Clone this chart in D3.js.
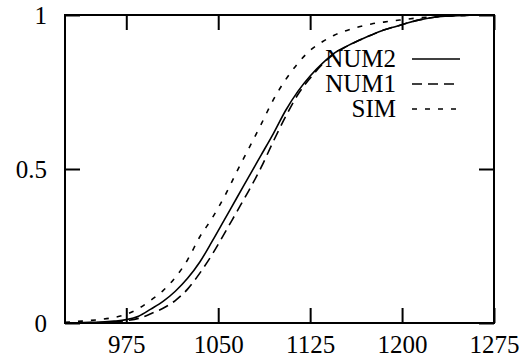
<!DOCTYPE html>
<html>
<head>
<meta charset="utf-8">
<script src="https://cdn.jsdelivr.net/npm/d3@7"></script>
<style>
  html, body { margin: 0; padding: 0; background: #fff; }
  svg { display: block; }
  svg text { font-family: "Liberation Serif", "Times New Roman", Times, "DejaVu Serif", serif !important; }
</style>
</head>
<body>
<svg id="chart" width="527" height="363"></svg>
<script>
// ---- data ----
const xValues = [925, 935, 945, 955, 965, 975, 985, 995, 1005, 1015, 1025, 1035, 1045, 1055, 1065, 1075, 1085, 1095, 1105, 1115, 1125, 1135, 1145, 1155, 1165, 1175, 1185, 1195, 1205, 1215, 1225, 1235, 1245, 1255, 1265, 1275];
const simValues  = [0.002, 0.005, 0.008, 0.012, 0.018, 0.028, 0.047, 0.074, 0.105, 0.148, 0.205, 0.28, 0.34, 0.41, 0.49, 0.567, 0.645, 0.725, 0.79, 0.843, 0.885, 0.913, 0.935, 0.95, 0.962, 0.971, 0.977, 0.982, 0.987, 0.991, 0.994, 0.996, 0.998, 0.999, 1.0, 1.0];
const num2Values = [0.0, 0.001, 0.002, 0.003, 0.006, 0.011, 0.022, 0.045, 0.07, 0.103, 0.145, 0.198, 0.265, 0.335, 0.405, 0.475, 0.545, 0.615, 0.69, 0.752, 0.802, 0.843, 0.877, 0.899, 0.918, 0.935, 0.951, 0.963, 0.975, 0.985, 0.992, 0.996, 0.998, 0.999, 1.0, 1.0];
const num1Values = [0.0, 0.0005, 0.001, 0.002, 0.004, 0.008, 0.015, 0.03, 0.048, 0.073, 0.11, 0.162, 0.222, 0.29, 0.36, 0.43, 0.505, 0.59, 0.67, 0.742, 0.795, 0.84, 0.875, 0.898, 0.918, 0.935, 0.951, 0.963, 0.975, 0.985, 0.992, 0.996, 0.998, 0.999, 1.0, 1.0];
const seriesNames = ["NUM2", "NUM1", "SIM"];
const xTicks = [975, 1050, 1125, 1200, 1275];
const yTicks = [0, 0.5, 1];
const yTickLabels = ["0", "0.5", "1"];

// ---- layout ----
const svg = d3.select("#chart");
const L = 65, R = 494, T = 15, B = 323;
const x = d3.scaleLinear().domain([925, 1275]).range([L, R]);
const y = d3.scaleLinear().domain([0, 1]).range([B, T]);
const TICK = 15;
const FONT = 25;

const series = [
  { name: seriesNames[0], values: num2Values, dash: null },
  { name: seriesNames[1], values: num1Values, dash: "10,6" },
  { name: seriesNames[2], values: simValues,  dash: "5,8" }
];

svg.append("defs").append("clipPath").attr("id", "plotclip")
  .append("rect").attr("x", L).attr("y", T).attr("width", R - L).attr("height", B - T);

// curves
const line = d3.line()
  .x((d, i) => x(xValues[i]))
  .y(d => y(d))
  .curve(d3.curveMonotoneX);

const curves = svg.append("g").attr("clip-path", "url(#plotclip)");
series.forEach(s => {
  curves.append("path")
    .attr("d", line(s.values))
    .attr("fill", "none")
    .attr("stroke", "#000")
    .attr("stroke-width", 1.6)
    .attr("stroke-dasharray", s.dash);
});

// axes
function styleAxis(g) {
  g.attr("font-family", null).attr("font-size", null);
  g.select(".domain").remove();
  g.selectAll(".tick line").attr("stroke", "#000").attr("stroke-width", 2);
  g.selectAll(".tick text")
    .style("font-size", FONT + "px")
    .attr("fill", "#000");
}

svg.append("g").attr("transform", `translate(0,${B})`)
  .call(d3.axisBottom(x).tickValues(xTicks).tickSize(-TICK).tickPadding(12).tickFormat(d => String(d)))
  .call(styleAxis);
svg.append("g").attr("transform", `translate(0,${T})`)
  .call(d3.axisTop(x).tickValues(xTicks).tickSize(-TICK).tickFormat(""))
  .call(styleAxis);
svg.append("g").attr("transform", `translate(${L},0)`)
  .call(d3.axisLeft(y).tickValues(yTicks).tickSize(-TICK).tickPadding(18).tickFormat((d, i) => yTickLabels[i]))
  .call(styleAxis);
svg.append("g").attr("transform", `translate(${R},0)`)
  .call(d3.axisRight(y).tickValues(yTicks).tickSize(-TICK).tickFormat(""))
  .call(styleAxis);

// frame
svg.append("rect")
  .attr("x", L).attr("y", T).attr("width", R - L).attr("height", B - T)
  .attr("fill", "none").attr("stroke", "#000").attr("stroke-width", 2);

// legend
const legY = [67, 92, 117];
const legend = svg.append("g");
series.forEach((s, i) => {
  legend.append("text")
    .attr("x", 396).attr("y", legY[i])
    .attr("text-anchor", "end")
    .style("font-size", FONT + "px")
    .attr("fill", "#000")
    .text(s.name);
  legend.append("line")
    .attr("x1", 412).attr("x2", 460)
    .attr("y1", legY[i] - 8).attr("y2", legY[i] - 8)
    .attr("stroke", "#000").attr("stroke-width", 1.6)
    .attr("stroke-dasharray", s.dash);
});
</script>
</body>
</html>
